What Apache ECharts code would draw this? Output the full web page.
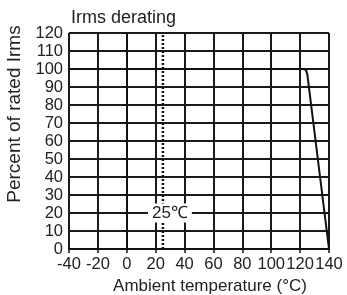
<!DOCTYPE html>
<html><head><meta charset="utf-8">
<script src="https://cdn.jsdelivr.net/npm/echarts@6/dist/echarts.min.js"></script>
<style>html,body{margin:0;padding:0;background:#fff}#c{width:347px;height:295px}</style>
</head><body><div id="c"></div>
<script>
const titleText = "Irms derating";
const xName = "Ambient temperature (°C)";
const yName = "Percent of rated Irms";
const deratingCurve = [[-40,100],[122,100],[124,99.5],[125,97],[140,0]];
const refLine = [[25,0],[25,120]];
const refLabelPoint = [[25,20]];
const refLabelText = "25℃";
const xMin = -40, xMax = 140, xStep = 20;
const yMin = 0, yMax = 120, yStep = 10;

const font = "Liberation Sans, Arial, sans-serif";
const chart = echarts.init(document.getElementById('c'), null, {renderer:'canvas'});
chart.setOption({
  animation:false,
  title:{text:titleText,left:66,top:4,textStyle:{fontFamily:font,fontSize:18,fontWeight:'normal',color:'#222'}},
  grid:{left:69,right:18,top:33,bottom:46,containLabel:false,outerBoundsMode:'none'},
  xAxis:{type:'value',min:xMin,max:xMax,interval:xStep,
    name:xName,nameLocation:'middle',nameGap:25,
    nameTextStyle:{fontFamily:font,fontSize:17,color:'#222',padding:[0,0,0,22]},
    axisLine:{lineStyle:{color:'#111',width:1.5}},
    axisTick:{show:true,length:4,lineStyle:{color:'#111',width:1.5}},
    axisLabel:{fontFamily:font,fontSize:16.5,color:'#222',margin:7},
    splitLine:{show:true,lineStyle:{color:'#1a1a1a',width:2}}},
  yAxis:{type:'value',min:yMin,max:yMax,interval:yStep,
    name:yName,nameLocation:'middle',nameGap:42,
    nameTextStyle:{fontFamily:font,fontSize:19,color:'#222',padding:[0,0,0,54]},
    axisLine:{show:true,lineStyle:{color:'#111',width:1.5}},
    axisTick:{show:true,length:4,lineStyle:{color:'#111',width:1.5}},
    axisLabel:{fontFamily:font,fontSize:16.5,color:'#222',margin:6},
    splitLine:{show:true,lineStyle:{color:'#1a1a1a',width:2}}},
  series:[
    {type:'line',data:refLine,symbol:'none',lineStyle:{color:'#111',width:2.5,type:[2,2]},z:3},
    {type:'line',data:deratingCurve,symbol:'none',lineStyle:{color:'#111',width:2},z:4},
    {type:'scatter',data:refLabelPoint,symbolSize:0,z:5,itemStyle:{opacity:1},
      label:{show:true,position:'inside',offset:[7,0],formatter:refLabelText,fontFamily:font,fontSize:17,color:'#222',
        backgroundColor:'#fff',padding:[1,4],opacity:1}}
  ]
});
</script></body></html>
